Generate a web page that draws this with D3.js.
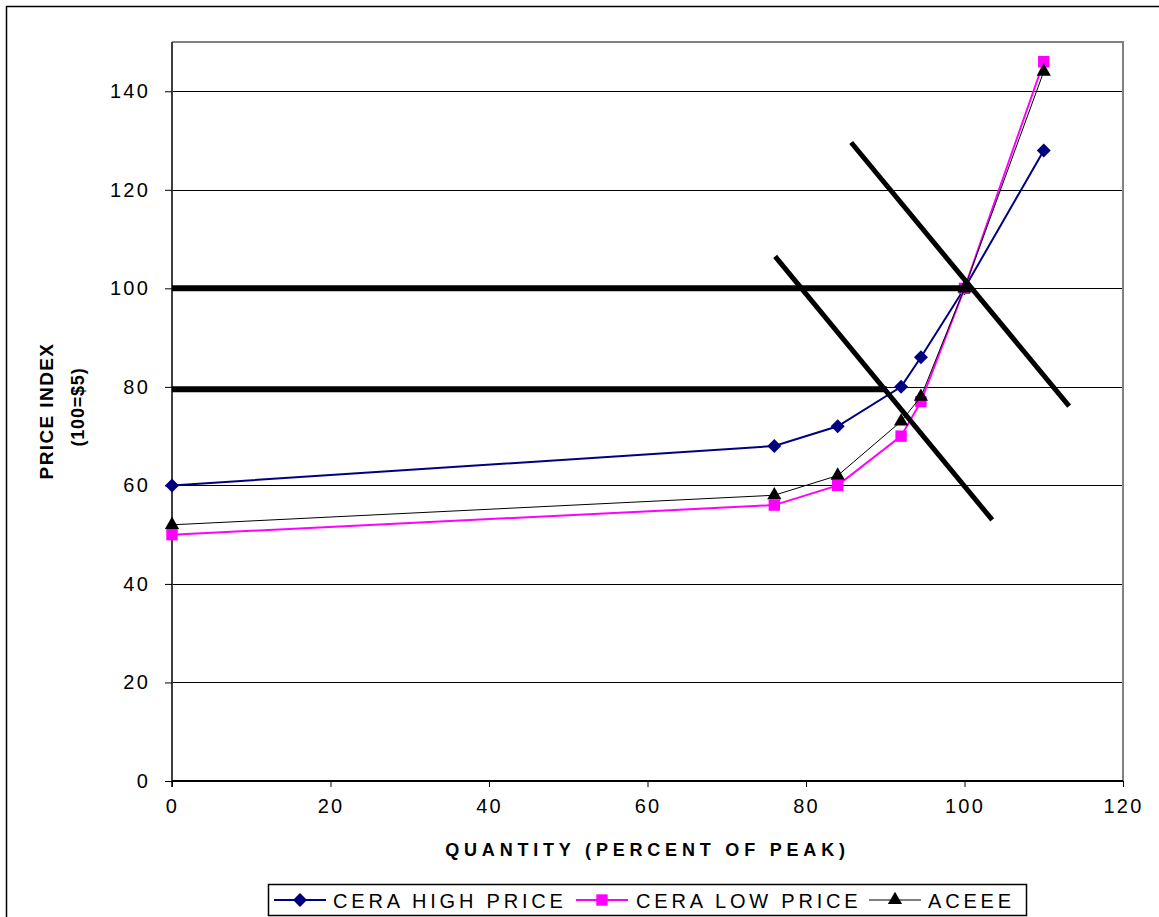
<!DOCTYPE html>
<html>
<head>
<meta charset="utf-8">
<script src="https://cdn.jsdelivr.net/npm/d3@7"></script>
<style>
  body { margin: 0; background: #fff; }
  text { font-family: "Liberation Sans", Arial, sans-serif; }
</style>
</head>
<body>
<svg id="chart" width="1159" height="917"></svg>
<script>
// Quantity (percent of peak) sampled for each supply curve
const quantity = [0, 76, 84, 92, 94.5, 100, 110];
// Price index (100 = $5) per series
const ceraHigh = [60, 68, 72, 80, 86, 100, 128];
const ceraLow  = [50, 56, 60, 70, 77, 100, 146];
const aceee    = [52, 58, 62, 73, 78, 100, 144];

const seriesNames = ["CERA HIGH PRICE", "CERA LOW PRICE", "ACEEE"];

// Reference price levels (horizontal bars) and the two demand lines
const priceLevels = [
  { from: 0, to: 100, value: 100 },
  { from: 0, to: 90.2, value: 79.5 }
];
const demandLines = [
  [[76.1, 106.5], [103.5, 53.0]],
  [[85.7, 129.6], [113.2, 76.1]]
];

const xTicks = [0, 20, 40, 60, 80, 100, 120];
const yTicks = [0, 20, 40, 60, 80, 100, 120, 140];

const svg = d3.select("#chart");

const plot = { left: 172, right: 1123, top: 42, bottom: 781 };
const x = d3.scaleLinear().domain([0, 120]).range([plot.left, plot.right]);
const y = d3.scaleLinear().domain([0, 150]).range([plot.bottom, plot.top]);

// Outer chart frame (continues past the right and bottom edge)
svg.append("path")
  .attr("d", `M6.5,930 V6.5 H1170`)
  .attr("fill", "none").attr("stroke", "#000").attr("stroke-width", 1.5);

// Gridlines
svg.append("g").selectAll("line")
  .data(yTicks.filter(d => d > 0))
  .join("line")
  .attr("x1", plot.left).attr("x2", plot.right)
  .attr("y1", d => Math.round(y(d)) + 0.5).attr("y2", d => Math.round(y(d)) + 0.5)
  .attr("stroke", "#000").attr("stroke-width", 1);

// Plot area border (top and right)
svg.append("path")
  .attr("d", `M${plot.left},${plot.top} H${plot.right} V${plot.bottom}`)
  .attr("fill", "none").attr("stroke", "#808080").attr("stroke-width", 2);

// Y axis
const yAxis = svg.append("g")
  .attr("transform", `translate(${plot.left},0)`)
  .call(d3.axisLeft(y).tickValues(yTicks).tickSize(7).tickPadding(15).tickFormat(d3.format("d")));
yAxis.select(".domain").attr("d", `M0,${plot.top}V${plot.bottom + 6}`)
  .attr("stroke", "#404040").attr("stroke-width", 2);
yAxis.selectAll(".tick line").attr("stroke", "#000").attr("stroke-width", 1);
yAxis.selectAll(".tick text")
  .attr("font-size", 20).attr("letter-spacing", 2.2).attr("fill", "#000")
  .attr("font-family", "Liberation Sans, Arial, sans-serif");

// X axis
const xAxis = svg.append("g")
  .attr("transform", `translate(0,${plot.bottom})`)
  .call(d3.axisBottom(x).tickValues(xTicks).tickSize(6).tickPadding(12).tickFormat(d3.format("d")));
xAxis.select(".domain").attr("d", `M${plot.left},0H${plot.right}`)
  .attr("stroke", "#000").attr("stroke-width", 2);
xAxis.selectAll(".tick line").attr("stroke", "#000").attr("stroke-width", 1);
xAxis.selectAll(".tick text")
  .attr("font-size", 20).attr("letter-spacing", 2.2).attr("fill", "#000")
  .attr("font-family", "Liberation Sans, Arial, sans-serif");

// Axis titles
svg.append("text")
  .attr("x", (plot.left + plot.right) / 2).attr("y", 856)
  .attr("text-anchor", "middle")
  .attr("font-size", 18).attr("font-weight", "bold").attr("letter-spacing", 4.8)
  .text("QUANTITY (PERCENT OF PEAK)");

svg.append("text")
  .attr("transform", "translate(53,411) rotate(-90)")
  .attr("text-anchor", "middle")
  .attr("font-size", 19).attr("font-weight", "bold").attr("letter-spacing", 1.4)
  .text("PRICE INDEX");
svg.append("text")
  .attr("transform", "translate(84,407) rotate(-90)")
  .attr("text-anchor", "middle")
  .attr("font-size", 18).attr("font-weight", "bold").attr("letter-spacing", 0.8)
  .text("(100=$5)");

// Series
const series = [
  { name: seriesNames[0], values: ceraHigh, color: "#000080", width: 2, symbol: d3.symbolDiamond2, size: 125 },
  { name: seriesNames[1], values: ceraLow, color: "#FF00FF", width: 2, symbol: d3.symbolSquare2, size: 165 },
  { name: seriesNames[2], values: aceee, color: "#000000", width: 1, symbol: d3.symbolTriangle2, size: 145 }
];

const line = d3.line().x(d => x(d[0])).y(d => y(d[1]));

series.forEach(s => {
  const pts = quantity.map((q, i) => [q, s.values[i]]);
  svg.append("path")
    .attr("d", line(pts))
    .attr("fill", "none").attr("stroke", s.color).attr("stroke-width", s.width);
  svg.append("g").selectAll("path")
    .data(pts)
    .join("path")
    .attr("transform", d => `translate(${x(d[0])},${y(d[1])})`)
    .attr("d", d3.symbol().type(s.symbol).size(s.size))
    .attr("fill", s.color);
});

// Heavy price-level bars
svg.append("g").selectAll("line")
  .data(priceLevels)
  .join("line")
  .attr("x1", d => x(d.from)).attr("x2", d => x(d.to))
  .attr("y1", d => y(d.value)).attr("y2", d => y(d.value))
  .attr("stroke", "#000").attr("stroke-width", 6);

// Demand lines
svg.append("g").selectAll("path")
  .data(demandLines)
  .join("path")
  .attr("d", d => line(d))
  .attr("stroke", "#000").attr("stroke-width", 5).attr("fill", "none");

// Legend
const legend = svg.append("g");
legend.append("rect")
  .attr("x", 268.5).attr("y", 884.5).attr("width", 758).attr("height", 31)
  .attr("fill", "#fff").attr("stroke", "#000").attr("stroke-width", 1.5);

const legendItems = [
  { x0: 274, x1: 326, tx: 333 },
  { x0: 576, x1: 628, tx: 636 },
  { x0: 869, x1: 921, tx: 928 }
];
series.forEach((s, i) => {
  const it = legendItems[i];
  const cy = 900;
  legend.append("line")
    .attr("x1", it.x0).attr("x2", it.x1).attr("y1", cy).attr("y2", cy)
    .attr("stroke", s.color).attr("stroke-width", s.width);
  legend.append("path")
    .attr("transform", `translate(${(it.x0 + it.x1) / 2},${cy})`)
    .attr("d", d3.symbol().type(s.symbol).size(s.size))
    .attr("fill", s.color);
  legend.append("text")
    .attr("x", it.tx).attr("y", cy + 7.5)
    .attr("font-size", 20).attr("letter-spacing", 3.8)
    .text(s.name);
});
</script>
</body>
</html>
